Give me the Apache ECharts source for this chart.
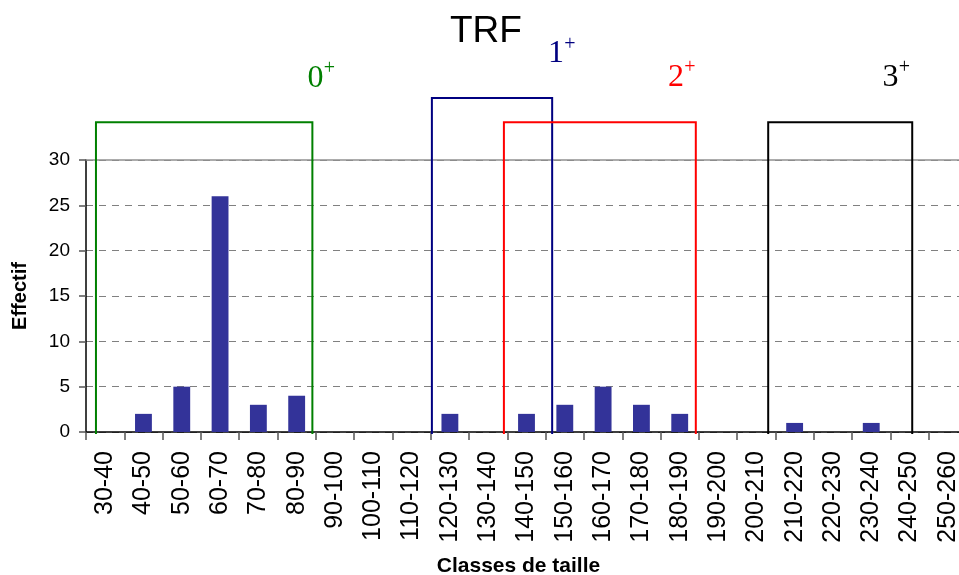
<!DOCTYPE html>
<html><head><meta charset="utf-8">
<script src="https://cdn.jsdelivr.net/npm/echarts@6/dist/echarts.min.js"></script>
<style>html,body{margin:0;padding:0;background:#fff}#c{width:959px;height:575px}</style>
</head><body><div id="c"></div>
<script>
// Size classes (mm) and counts
const categories = ['30-40','40-50','50-60','60-70','70-80','80-90','90-100','100-110','110-120','120-130','130-140','140-150','150-160','160-170','170-180','180-190','190-200','200-210','210-220','220-230','230-240','240-250','250-260'];
const counts = [0,2,5,26,3,4,0,0,0,2,0,2,3,5,3,2,0,0,1,0,1,0,0];

// Age cohorts: size range (mm) and box height (count units)
const cohortNames = ['0','1','2','3'];
const cohortStart = [32.6, 120.3, 139.1, 208.1];
const cohortEnd = [89.1, 151.7, 189.2, 245.7];
const cohortTop = [34.15, 36.84, 34.15, 34.15];
const cohortLabelX = [89.9, 152.7, 184.0, 240.0];
const cohortLabelY = [39.0, 41.7, 39.1, 39.1];
const cohortColors = ['#008000', '#000080', '#FF0000', '#000000'];

const chart = echarts.init(document.getElementById('c'));

function renderItem(params, api) {
  const i = params.dataIndex;
  const pA = api.coord([api.value(0), 0]);
  const pB = api.coord([api.value(1), api.value(2)]);
  const bottomY = pA[1] + 2;
  const lp = api.coord([api.value(3), api.value(4)]);
  const col = cohortColors[i];
  return {
    type: 'group',
    children: [
      { type: 'polyline', shape: { points: [[pA[0], bottomY], [pA[0], pB[1]], [pB[0], pB[1]], [pB[0], bottomY]] },
        style: { stroke: col, lineWidth: 2, fill: 'none' } },
      { type: 'text', x: lp[0], y: lp[1],
        style: { text: cohortNames[i], fill: col, font: '32px "Liberation Serif"', align: 'center', verticalAlign: 'middle' } },
      { type: 'text', x: lp[0] + 14, y: lp[1] - 9.5,
        style: { text: '+', fill: col, font: '20px "Liberation Serif"', align: 'center', verticalAlign: 'middle' } }
    ]
  };
}

chart.setOption({
  animation: false,
  title: { text: 'TRF', left: 445, top: 8,
    textStyle: { fontFamily: 'Liberation Sans', fontSize: 37, fontWeight: 'normal', color: '#000' } },
  grid: { left: 86, top: 160, width: 881, height: 272, containLabel: false, outerBoundsMode: 'none' },
  xAxis: [{
    type: 'category', data: categories, boundaryGap: true,
    axisLine: { lineStyle: { color: '#000', width: 1.5 } },
    axisTick: { show: true, length: 8, lineStyle: { color: '#555', width: 1.5 } },
    axisLabel: { rotate: 90, margin: 19, fontSize: 25, fontFamily: 'Liberation Sans', color: '#000', interval: 0 },
    name: 'Classes de taille', nameLocation: 'middle', nameGap: 124,
    nameTextStyle: { fontFamily: 'Liberation Sans', fontSize: 21, fontWeight: 'bold', color: '#000', padding: [0, 16, 0, 0] }
  }, {
    type: 'value', min: 30, max: 260, show: false
  }],
  yAxis: {
    type: 'value', min: 0, max: 30, interval: 5,
    axisLine: { show: true, lineStyle: { color: '#000', width: 1.5 } },
    axisTick: { show: true, length: 7, lineStyle: { color: '#555', width: 1.5 } },
    axisLabel: { margin: 16, fontSize: 19, fontFamily: 'Liberation Sans', color: '#000' },
    splitLine: { lineStyle: { type: [7, 6], color: '#808080', width: 1 } },
    name: 'Effectif', nameLocation: 'middle', nameGap: 56, nameRotate: 90,
    nameTextStyle: { fontFamily: 'Liberation Sans', fontSize: 20, fontWeight: 'bold', color: '#000' }
  },
  series: [{
    type: 'bar', data: counts, barWidth: '44%', itemStyle: { color: '#333399' },
    markLine: { silent: true, symbol: 'none', label: { show: false },
      lineStyle: { type: 'solid', color: '#909090', width: 1.5 }, data: [{ yAxis: 30 }] }
  }, {
    type: 'custom', xAxisIndex: 1, yAxisIndex: 0, renderItem: renderItem, clip: false, z: 5,
    data: cohortNames.map((n, i) => [cohortStart[i], cohortEnd[i], cohortTop[i], cohortLabelX[i], cohortLabelY[i]])
  }]
});
</script>
</body></html>
